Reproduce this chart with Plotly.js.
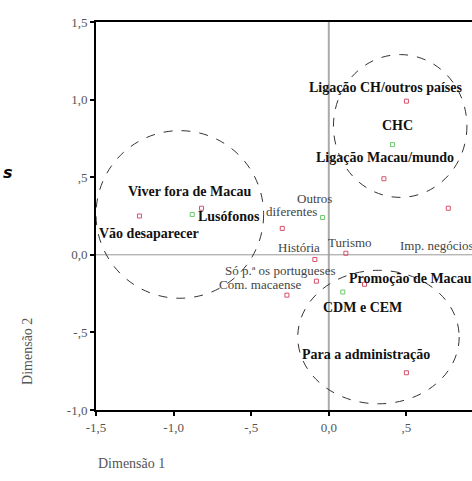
<!DOCTYPE html>
<html><head><meta charset="utf-8">
<script src="https://cdn.plot.ly/plotly-3.0.1.min.js"></script>
<style>html,body{margin:0;padding:0;overflow:hidden;background:#fff;width:472px;height:481px}</style>
</head><body><div id="chart"></div>
<script>
// Category points (red = variable A, green = variable B)
const redX = [0.50, 0.355, -1.22, -0.82, -0.30, 0.77, -0.09, 0.11, -0.08, -0.27, 0.23, 0.50];
const redY = [0.99, 0.49, 0.25, 0.30, 0.17, 0.30, -0.03, 0.01, -0.17, -0.26, -0.19, -0.76];
const greenX = [0.41, -0.88, -0.04, 0.09];
const greenY = [0.71, 0.26, 0.24, -0.24];

// Labels (bold)
const boldLabels = ["Ligação CH/outros países", "CHC", "Ligação Macau/mundo", "Viver fora de Macau",
  "Vão desaparecer", "Lusófonos", "Promoção de Macau", "CDM e CEM", "Para a administração"];
const boldLX = [-0.14, 0.44, 0.36, -0.90, -1.16, -0.645, 0.12, 0.22, 0.24];
const boldLY = [1.08, 0.83, 0.625, 0.41, 0.135, 0.25, -0.15, -0.34, -0.645];
const boldAnchor = ["left", "center", "center", "center", "center", "center", "left", "center", "center"];

// Labels (regular)
const plainLabels = ["Outros", "diferentes", "História", "Turismo", "Imp. negócios", "Só p.ª os portugueses", "Com. macaense"];
const plainLX = [-0.09, -0.24, -0.19, 0.135, 0.445, -0.315, -0.44];
const plainLY = [0.36, 0.28, 0.045, 0.077, 0.058, -0.10, -0.19];
const plainAnchor = ["center", "center", "center", "center", "left", "center", "center"];

// Cluster ellipses: centre and radii
const ellCX = [-0.96, 0.46, 0.32];
const ellCY = [0.26, 0.83, -0.53];
const ellRX = [0.54, 0.43, 0.52];
const ellRY = [0.54, 0.46, 0.43];

// Axis ticks
const xTickVals = [-1.5, -1.0, -0.5, 0.0, 0.5, 1.0];
const xTickText = ["-1,5", "-1,0", "-,5", "0,0", ",5", "1,0"];
const yTickVals = [-1.0, -0.5, 0.0, 0.5, 1.0, 1.5];
const yTickText = ["-1,0", "-,5", "0,0", ",5", "1,0", "1,5"];

const serif = "Times New Roman, Liberation Serif, serif";

const traces = [
  {x: redX, y: redY, mode: "markers", type: "scatter", cliponaxis: false,
   marker: {symbol: "square-open", size: 4, color: "#d8506a", line: {width: 1}}},
  {x: greenX, y: greenY, mode: "markers", type: "scatter", cliponaxis: false,
   marker: {symbol: "square-open", size: 4, color: "#6cc86c", line: {width: 1}}}
];

const annotations = [];
boldLabels.forEach((t, i) => annotations.push({x: boldLX[i], y: boldLY[i], xref: "x", yref: "y", text: "<b>" + t + "</b>",
  showarrow: false, xanchor: boldAnchor[i], yanchor: "middle", font: {family: serif, size: 14, color: "#111"}}));
plainLabels.forEach((t, i) => annotations.push({x: plainLX[i], y: plainLY[i], xref: "x", yref: "y", text: t,
  showarrow: false, xanchor: plainAnchor[i], yanchor: "middle", font: {family: serif, size: 13, color: "#444"}}));
annotations.push({x: 0, y: -0.137, xref: "paper", yref: "paper", text: "Dimensão 1", showarrow: false,
  xanchor: "left", yanchor: "middle", font: {family: serif, size: 14, color: "#555"}});
annotations.push({x: -0.175, y: 0.15, xref: "paper", yref: "paper", text: "Dimensão 2", showarrow: false, textangle: -90,
  xanchor: "center", yanchor: "middle", font: {family: serif, size: 14, color: "#555"}});

const shapes = [];
for (let i = 0; i < ellCX.length; i++) {
  shapes.push({type: "circle", xref: "x", yref: "y",
    x0: ellCX[i] - ellRX[i], x1: ellCX[i] + ellRX[i], y0: ellCY[i] - ellRY[i], y1: ellCY[i] + ellRY[i],
    line: {color: "#333", width: 1, dash: "dash"}});
}
shapes.push({type: "line", xref: "x", yref: "paper", x0: 0, x1: 0, y0: 0, y1: 1, line: {color: "#aaa", width: 2}, layer: "below"});
shapes.push({type: "line", xref: "paper", yref: "y", x0: 0, x1: 1, y0: 0, y1: 0, line: {color: "#999", width: 1}, layer: "below"});

const layout = {
  width: 500, height: 481,
  margin: {l: 96, r: 16, t: 22, b: 71},
  showlegend: false,
  font: {family: serif},
  paper_bgcolor: "#fff", plot_bgcolor: "#fff",
  xaxis: {range: [-1.5, 1.0], tickvals: xTickVals, ticktext: xTickText, showgrid: false, zeroline: false,
    showline: true, linecolor: "#000", linewidth: 2, mirror: true, ticks: "outside", ticklen: 4, tickwidth: 2, tickcolor: "#000",
    tickfont: {family: serif, size: 13, color: "#555"}},
  yaxis: {range: [-1.0, 1.5], tickvals: yTickVals, ticktext: yTickText, showgrid: false, zeroline: false,
    showline: true, linecolor: "#000", linewidth: 2, mirror: false, ticks: "outside", ticklen: 4, tickwidth: 2, tickcolor: "#000",
    tickfont: {family: serif, size: 13, color: "#555"}},
  annotations: annotations,
  shapes: shapes
};

Plotly.newPlot("chart", traces, layout, {staticPlot: true, displayModeBar: false}).then(() => {
  const s = document.createElement("div");
  s.textContent = "s";
  s.style.cssText = "position:absolute;left:3px;top:163px;font:bold italic 16px 'DejaVu Sans',sans-serif;color:#000";
  document.body.appendChild(s);
});
</script></body></html>
